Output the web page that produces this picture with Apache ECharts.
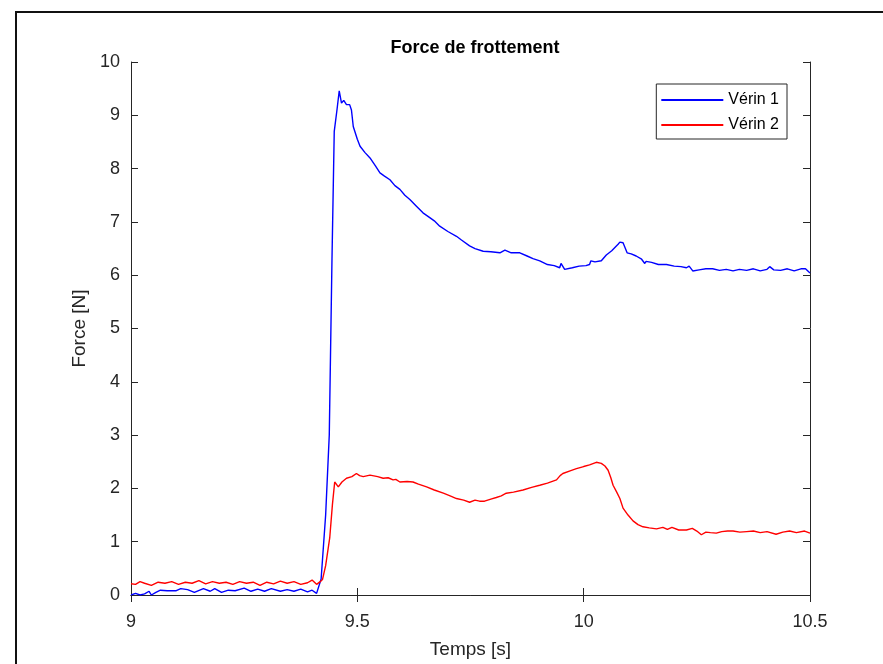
<!DOCTYPE html>
<html>
<head>
<meta charset="utf-8">
<script src="https://cdn.jsdelivr.net/npm/echarts@6/dist/echarts.min.js"></script>
<style>
  html, body { margin: 0; padding: 0; background: #fff; }
  #chart { width: 883px; height: 664px; }
</style>
</head>
<body>
<div id="chart"></div>
<script>
// Vérin 1 (blue)
const tempsV1 = [
  9.000, 9.010, 9.020, 9.030, 9.040, 9.045, 9.055, 9.065, 9.080, 9.100,
  9.110, 9.125, 9.140, 9.160, 9.175, 9.185, 9.200, 9.215, 9.230, 9.250,
  9.265, 9.280, 9.295, 9.310, 9.330, 9.345, 9.360, 9.375, 9.390, 9.400,
  9.410, 9.420, 9.430, 9.438, 9.444, 9.449, 9.455, 9.460, 9.465, 9.470,
  9.476, 9.483, 9.487, 9.491, 9.500, 9.506, 9.517, 9.528, 9.540, 9.550,
  9.560, 9.572, 9.583, 9.594, 9.605, 9.616, 9.630, 9.645, 9.660, 9.670,
  9.682, 9.700, 9.719, 9.730, 9.748, 9.760, 9.778, 9.795, 9.815, 9.826,
  9.840, 9.859, 9.875, 9.888, 9.903, 9.920, 9.935, 9.947, 9.950, 9.958,
  9.975, 9.990, 10.005, 10.013, 10.016, 10.025, 10.039, 10.050, 10.062, 10.076,
  10.080, 10.087, 10.096, 10.105, 10.116, 10.128, 10.135, 10.138, 10.150, 10.165,
  10.183, 10.200, 10.215, 10.227, 10.233, 10.241, 10.255, 10.270, 10.285, 10.300,
  10.315, 10.330, 10.344, 10.360, 10.375, 10.390, 10.405, 10.411, 10.420, 10.435,
  10.450, 10.465, 10.480, 10.490, 10.500
];
const forceV1 = [
  0.00, 0.03, 0.00, 0.02, 0.07, 0.00, 0.05, 0.09, 0.08, 0.08,
  0.12, 0.10, 0.05, 0.12, 0.07, 0.12, 0.05, 0.09, 0.08, 0.13,
  0.07, 0.11, 0.07, 0.12, 0.07, 0.10, 0.07, 0.11, 0.06, 0.09,
  0.03, 0.30, 1.50, 3.00, 6.30, 8.70, 9.10, 9.46, 9.23, 9.28,
  9.20, 9.20, 9.10, 8.79, 8.55, 8.42, 8.30, 8.20, 8.05, 7.92,
  7.86, 7.79, 7.68, 7.61, 7.50, 7.42, 7.30, 7.17, 7.08, 7.02,
  6.92, 6.82, 6.73, 6.66, 6.55, 6.50, 6.45, 6.44, 6.42, 6.47,
  6.42, 6.42, 6.36, 6.31, 6.27, 6.20, 6.18, 6.14, 6.22, 6.11,
  6.14, 6.17, 6.18, 6.20, 6.27, 6.25, 6.27, 6.38, 6.46, 6.58,
  6.62, 6.61, 6.42, 6.40, 6.36, 6.30, 6.22, 6.26, 6.24, 6.20,
  6.20, 6.17, 6.16, 6.14, 6.17, 6.08, 6.10, 6.12, 6.12, 6.09,
  6.11, 6.08, 6.11, 6.09, 6.12, 6.08, 6.11, 6.16, 6.10, 6.09,
  6.12, 6.08, 6.12, 6.12, 6.04
];

// Vérin 2 (red)
const tempsV2 = [
  9.000, 9.010, 9.020, 9.030, 9.045, 9.060, 9.075, 9.090, 9.105, 9.120,
  9.135, 9.150, 9.165, 9.180, 9.195, 9.210, 9.225, 9.240, 9.255, 9.270,
  9.285, 9.300, 9.315, 9.330, 9.345, 9.360, 9.375, 9.390, 9.400, 9.410,
  9.418, 9.423, 9.430, 9.439, 9.445, 9.450, 9.458, 9.466, 9.476, 9.488,
  9.498, 9.505, 9.513, 9.528, 9.545, 9.557, 9.568, 9.579, 9.585, 9.594,
  9.610, 9.623, 9.635, 9.653, 9.670, 9.690, 9.705, 9.719, 9.735, 9.748,
  9.760, 9.770, 9.781, 9.795, 9.807, 9.818, 9.829, 9.845, 9.866, 9.885,
  9.903, 9.920, 9.940, 9.948, 9.954, 9.970, 9.984, 10.000, 10.013, 10.028,
  10.039, 10.047, 10.054, 10.060, 10.065, 10.073, 10.080, 10.087, 10.098, 10.109,
  10.120, 10.131, 10.145, 10.161, 10.175, 10.185, 10.195, 10.210, 10.227, 10.240,
  10.250, 10.260, 10.270, 10.280, 10.293, 10.305, 10.318, 10.330, 10.345, 10.360,
  10.375, 10.390, 10.405, 10.425, 10.440, 10.455, 10.470, 10.488, 10.500
];
const forceV2 = [
  0.21, 0.20, 0.25, 0.22, 0.18, 0.24, 0.22, 0.25, 0.20, 0.24,
  0.22, 0.27, 0.21, 0.25, 0.22, 0.24, 0.20, 0.25, 0.22, 0.24,
  0.18, 0.24, 0.21, 0.26, 0.22, 0.25, 0.20, 0.23, 0.28, 0.20,
  0.25, 0.29, 0.55, 1.07, 1.70, 2.12, 2.03, 2.12, 2.19, 2.22,
  2.28, 2.24, 2.22, 2.25, 2.22, 2.19, 2.20, 2.16, 2.17, 2.12,
  2.13, 2.12, 2.08, 2.03, 1.97, 1.91, 1.86, 1.81, 1.78, 1.74,
  1.78, 1.76, 1.76, 1.80, 1.83, 1.86, 1.91, 1.93, 1.97, 2.02,
  2.06, 2.10, 2.16, 2.24, 2.28, 2.33, 2.37, 2.41, 2.44, 2.49,
  2.47, 2.42, 2.34, 2.20, 2.06, 1.93, 1.81, 1.63, 1.50, 1.39,
  1.32, 1.28, 1.26, 1.24, 1.27, 1.23, 1.27, 1.22, 1.22, 1.25,
  1.20, 1.13, 1.18, 1.17, 1.16, 1.19, 1.20, 1.20, 1.18, 1.19,
  1.20, 1.17, 1.19, 1.14, 1.18, 1.20, 1.17, 1.20, 1.16
];

const xTicks = [9, 9.5, 10, 10.5];
const yTicks = [0, 1, 2, 3, 4, 5, 6, 7, 8, 9, 10];

const font = "'Liberation Sans', Arial, Helvetica, sans-serif";
const axisColor = '#262626';

const chart = echarts.init(document.getElementById('chart'));

const zip = (t, v) => t.map((x, i) => [x, v[i]]);

const hidden = {
  axisLabel: { show: false },
  splitLine: { show: false },
};

chart.setOption({
  animation: false,
  backgroundColor: '#fff',
  title: {
    text: 'Force de frottement',
    left: 470,
    top: 34,
    textAlign: 'center',
    textStyle: { fontFamily: font, fontSize: 18, fontWeight: 'bold', color: '#000' },
  },
  grid: { left: 131, right: 73, top: 62, bottom: 62 },
  legend: {
    right: 96,
    top: 84,
    orient: 'vertical',
    itemWidth: 62,
    itemHeight: 2,
    itemGap: 9,
    padding: [8, 8, 6, 5],
    borderColor: '#262626',
    borderWidth: 1,
    backgroundColor: '#fff',
    icon: 'rect',
    textStyle: { fontFamily: font, fontSize: 16, color: '#000', padding: [0, 0, 0, 0] },
    data: ['Vérin 1', 'Vérin 2'],
  },
  graphic: [{
    type: 'rect',
    shape: { x: 16, y: 12, width: 900, height: 700 },
    style: { fill: 'none', stroke: '#111', lineWidth: 2 },
    silent: true,
  }],
  xAxis: [{
    type: 'value',
    min: 9,
    max: 10.5,
    interval: 0.5,
    name: 'Temps [s]',
    nameLocation: 'middle',
    nameGap: 45,
    nameTextStyle: { fontFamily: font, fontSize: 19, color: axisColor },
    axisLine: { show: true, lineStyle: { color: axisColor, width: 1 } },
    axisTick: { show: true, inside: true, length: 7, lineStyle: { color: axisColor } },
    axisLabel: {
      fontFamily: font, fontSize: 18, color: axisColor, margin: 18,
      formatter: (v) => xTicks.includes(v) ? String(v) : '',
    },
    splitLine: { show: false },
  }, {
    type: 'value',
    position: 'top',
    min: 9,
    max: 10.5,
    interval: 0.5,
    axisLine: { show: true, lineStyle: { color: axisColor, width: 1 } },
    axisTick: { show: true, inside: true, length: 7, lineStyle: { color: axisColor } },
    ...hidden,
  }],
  yAxis: [{
    type: 'value',
    min: 0,
    max: 10,
    interval: 1,
    name: 'Force [N]',
    nameLocation: 'middle',
    nameGap: 40,
    nameTextStyle: { fontFamily: font, fontSize: 19, color: axisColor },
    axisLine: { show: true, lineStyle: { color: axisColor, width: 1 } },
    axisTick: { show: true, inside: true, length: 7, lineStyle: { color: axisColor } },
    axisLabel: {
      fontFamily: font, fontSize: 18, color: axisColor, margin: 11,
      formatter: (v) => yTicks.includes(v) ? String(v) : '',
    },
    splitLine: { show: false },
  }, {
    type: 'value',
    position: 'right',
    min: 0,
    max: 10,
    interval: 1,
    axisLine: { show: true, lineStyle: { color: axisColor, width: 1 } },
    axisTick: { show: true, inside: true, length: 7, lineStyle: { color: axisColor } },
    ...hidden,
  }],
  series: [{
    name: 'Vérin 1',
    type: 'line',
    data: zip(tempsV1, forceV1),
    showSymbol: false,
    symbol: 'none',
    itemStyle: { color: '#0000ff' },
    lineStyle: { color: '#0000ff', width: 1.4 },
  }, {
    name: 'Vérin 2',
    type: 'line',
    data: zip(tempsV2, forceV2),
    showSymbol: false,
    symbol: 'none',
    itemStyle: { color: '#ff0000' },
    lineStyle: { color: '#ff0000', width: 1.4 },
  }],
});
</script>
</body>
</html>
